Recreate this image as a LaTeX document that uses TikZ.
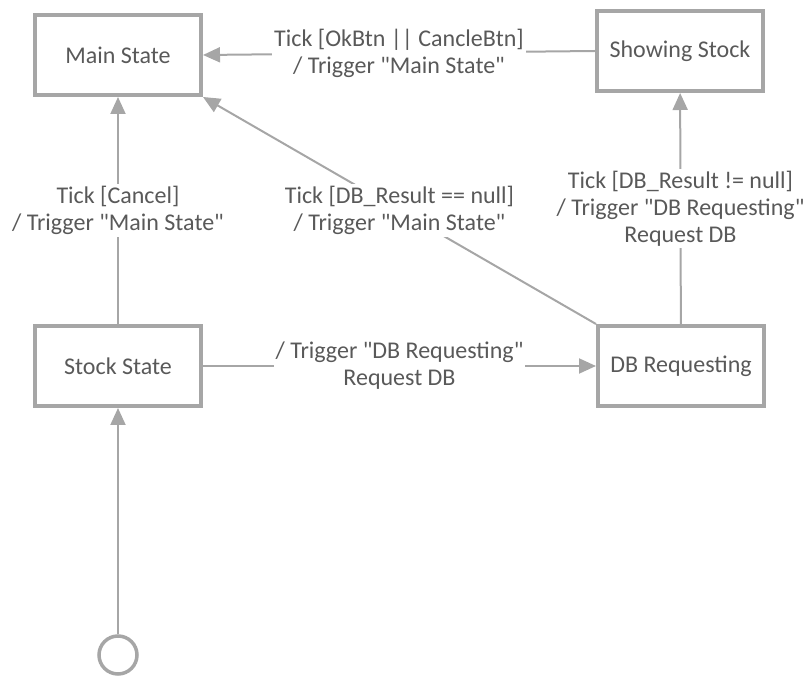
\documentclass[tikz,border=0pt]{standalone}
\usepackage{fontspec}
\setmainfont{Carlito}
\usetikzlibrary{arrows.meta}
\definecolor{linegray}{HTML}{A6A6A6}
\definecolor{textgray}{HTML}{595959}
\newcommand{\qname}[1]{\textquotedbl#1\textquotedbl}

\begin{document}
\begin{tikzpicture}[x=1pt,y=-1pt,
    state/.style={draw=linegray, line width=4pt, minimum width=166pt, minimum height=80pt,
        text=textgray, font=\fontsize{24}{28}\selectfont},
    trans/.style={draw=linegray, line width=2pt, -{Triangle[length=17pt,width=15pt]}},
    lbl/.style={fill=white, text=textgray, align=center, inner sep=2pt,
        font=\fontsize{24}{27}\selectfont}]
        \useasboundingbox (0,0) rectangle (807,676);

        % States
        \node[state] (main) at (118,55) {Main State};
        \node[state] (show) at (680,51) {Showing Stock};
        \node[state] (stock) at (118,366) {Stock State};
        \node[state] (db) at (681,366) {DB Requesting};

        % Initial state
        \node[circle, draw=linegray, line width=3.5pt, minimum size=38pt, inner sep=0pt] (init) at (118,655) {};
        \draw[trans] (init) -- (stock);

        % Transitions
        \draw[trans] (show.west) -- node[lbl] {Tick [OkBtn || CancleBtn]\\/ Trigger \qname{Main State}} (main.east);
        \draw[trans] (stock) -- node[lbl] {Tick [Cancel]\\/ Trigger \qname{Main State}} (main);
        \draw[trans] (db.north west) -- node[lbl] {Tick [DB\_Result == null]\\/ Trigger \qname{Main State}} (main.south east);
        \draw[trans] (db) -- node[lbl] {Tick [DB\_Result != null]\\/ Trigger \qname{DB Requesting}\\Request DB} (show);
        \draw[trans] (stock) -- node[lbl] {/ Trigger \qname{DB Requesting}\\Request DB} (db);
    \end{tikzpicture}
\end{document}
